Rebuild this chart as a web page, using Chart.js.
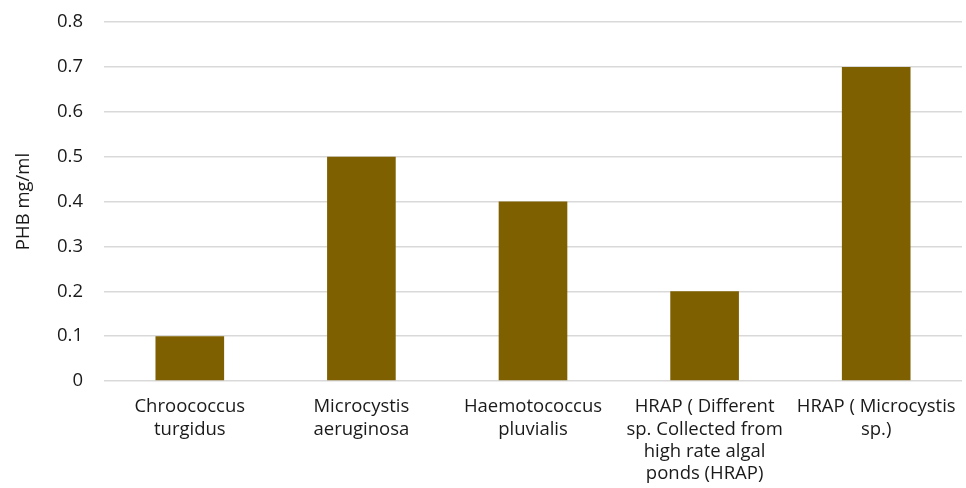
<!DOCTYPE html>
<html>
<head>
<meta charset="utf-8">
<script src="https://cdn.jsdelivr.net/npm/chart.js@4/dist/chart.umd.min.js"></script>
<style>
  html, body { margin: 0; padding: 0; background: #fff; }
  #wrap { position: relative; width: 966px; height: 488px; }
</style>
</head>
<body>
<div id="wrap"><canvas id="phb"></canvas></div>
<script>
// categories (x labels, already split into lines as in the picture)
const species = [
  ["Chroococcus", "turgidus"],
  ["Microcystis", "aeruginosa"],
  ["Haemotococcus", "pluvialis"],
  ["HRAP ( Different", "sp. Collected from", "high rate algal", "ponds (HRAP)"],
  ["HRAP ( Microcystis", "sp.)"],
];
const phbValues = [0.1, 0.5, 0.4, 0.2, 0.7];
const yTicks = [0, 0.1, 0.2, 0.3, 0.4, 0.5, 0.6, 0.7, 0.8];

const textColor = "#1a1a1a";
const fontFamily = "'Open Sans', 'Noto Sans', sans-serif";

const ctx = document.getElementById("phb").getContext("2d");
new Chart(ctx, {
  type: "bar",
  data: {
    labels: species,
    datasets: [
      {
        label: "PHB",
        data: phbValues,
        backgroundColor: "#7f6000",
        borderWidth: 0,
        categoryPercentage: 1,
        barPercentage: 0.4,
      },
    ],
  },
  options: {
    responsive: true,
    maintainAspectRatio: false,
    animation: false,
    layout: { padding: { top: 22, right: 4, bottom: 0, left: 0 } },
    plugins: {
      legend: { display: false },
      tooltip: { enabled: false },
    },
    scales: {
      x: {
        grid: { display: false, drawTicks: false },
        border: { display: false },
        ticks: {
          color: textColor,
          padding: 15,
          maxRotation: 0,
          autoSkip: false,
          font: { family: fontFamily, size: 18.5, lineHeight: 1.2 },
        },
        afterFit: (scale) => {
          scale.height = 107;
          scale.paddingLeft = 0;
          scale.paddingRight = 0;
        },
      },
      y: {
        min: 0,
        max: 0.8,
        afterBuildTicks: (scale) => {
          scale.ticks = yTicks.map((v) => ({ value: v }));
        },
        grid: { color: "#d9d9d9", lineWidth: 1.5, drawTicks: false },
        border: { display: false },
        ticks: {
          color: textColor,
          padding: 21,
          font: { family: fontFamily, size: 18.5 },
          callback: (v) => String(Math.round(v * 10) / 10),
        },
        title: {
          display: true,
          text: "PHB mg/ml",
          color: textColor,
          padding: { top: 13, bottom: 0 },
          font: { family: fontFamily, size: 18.5 },
        },
        afterFit: (scale) => {
          scale.width = 104;
          scale.paddingTop = 0;
          scale.paddingBottom = 0;
        },
      },
    },
  },
});
</script>
</body>
</html>
